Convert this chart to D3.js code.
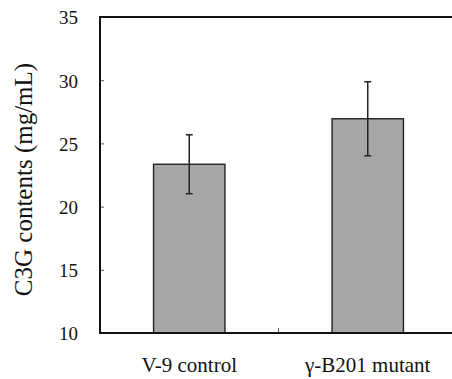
<!DOCTYPE html>
<html lang="en">
<head>
  <meta charset="utf-8">
  <script src="https://d3js.org/d3.v7.min.js"></script>
  <style>
    body { margin: 0; background: #fff; }
    svg text { font-family: "Liberation Serif", "Times New Roman", serif; fill: #111; }
  </style>
</head>
<body>
<script type="text/javascript">
  var w = 452;
  var h = 379;

  // data
  var categories = ["V-9 control", "\u03b3-B201 mutant"];
  var means = [23.35, 26.95];
  var errors = [2.33, 2.93];
  var yTicks = [10, 15, 20, 25, 30, 35];

  var mLeft = 100, mTop = 17, mBottom = 333, mRight = 457;
  var serif = '"Liberation Serif", "Times New Roman", serif';

  var svg = d3.select("body")
          .append("svg")
          .attr("width", w)
          .attr("height", h);

  var x = d3.scaleBand()
          .domain(categories)
          .range([mLeft, mRight])
          .paddingInner(0.6)
          .paddingOuter(0.3);

  var y = d3.scaleLinear()
          .domain([10, 35])
          .range([mBottom, mTop]);

  var rows = categories.map(function (c, i) {
    return {name: c, mean: means[i], err: errors[i]};
  });

  // bars
  svg.selectAll("rect.bar")
          .data(rows)
          .join("rect")
          .attr("class", "bar")
          .attr("x", function (d) { return x(d.name); })
          .attr("y", function (d) { return y(d.mean); })
          .attr("width", x.bandwidth())
          .attr("height", function (d) { return y(10) - y(d.mean); })
          .attr("fill", "#a6a6a6")
          .attr("stroke", "#222")
          .attr("stroke-width", 1.4);

  // error bars
  var eb = svg.selectAll("g.err")
          .data(rows)
          .join("g")
          .attr("class", "err")
          .attr("stroke", "#222")
          .attr("stroke-width", 1.5);

  eb.append("line")
          .attr("x1", function (d) { return x(d.name) + x.bandwidth() / 2; })
          .attr("x2", function (d) { return x(d.name) + x.bandwidth() / 2; })
          .attr("y1", function (d) { return y(d.mean + d.err); })
          .attr("y2", function (d) { return y(d.mean - d.err); });

  [1, -1].forEach(function (s) {
    eb.append("line")
            .attr("x1", function (d) { return x(d.name) + x.bandwidth() / 2 - 3.5; })
            .attr("x2", function (d) { return x(d.name) + x.bandwidth() / 2 + 3.5; })
            .attr("y1", function (d) { return y(d.mean + s * d.err); })
            .attr("y2", function (d) { return y(d.mean + s * d.err); });
  });

  // y axis, ticks pointing inward
  var yAxis = svg.append("g")
          .attr("transform", `translate(${mLeft},0)`)
          .call(d3.axisRight(y).tickValues(yTicks).tickSize(4).tickFormat(d3.format("d")));
  yAxis.attr("font-family", null).attr("font-size", null);
  yAxis.select(".domain").remove();
  yAxis.selectAll(".tick line").attr("stroke", "#555");
  yAxis.selectAll(".tick text")
          .attr("x", -22)
          .attr("dy", "0.36em")
          .attr("text-anchor", "end")
          .style("font-family", serif)
          .style("font-size", "19px");

  // x axis labels and separator tick
  svg.selectAll("text.cat")
          .data(categories)
          .join("text")
          .attr("class", "cat")
          .attr("x", function (d) { return x(d) + x.bandwidth() / 2; })
          .attr("y", 372)
          .attr("text-anchor", "middle")
          .style("font-family", serif)
          .style("font-size", "21px")
          .text(function (d) { return d; });

  svg.append("line")
          .attr("x1", x.step() + mLeft)
          .attr("x2", x.step() + mLeft)
          .attr("y1", mBottom)
          .attr("y2", mBottom - 5)
          .attr("stroke", "#555");

  // frame
  svg.append("path")
          .attr("d", `M${mRight},${mTop}H${mLeft}V${mBottom}H${mRight}`)
          .attr("fill", "none")
          .attr("stroke", "#111")
          .attr("stroke-width", 2);

  // y title
  svg.append("text")
          .attr("transform", `translate(32,${(62 + 297) / 2}) rotate(-90)`)
          .attr("text-anchor", "middle")
          .style("font-family", serif)
          .style("font-size", "25px")
          .text("C3G contents (mg/mL)");
</script>
</body>
</html>
